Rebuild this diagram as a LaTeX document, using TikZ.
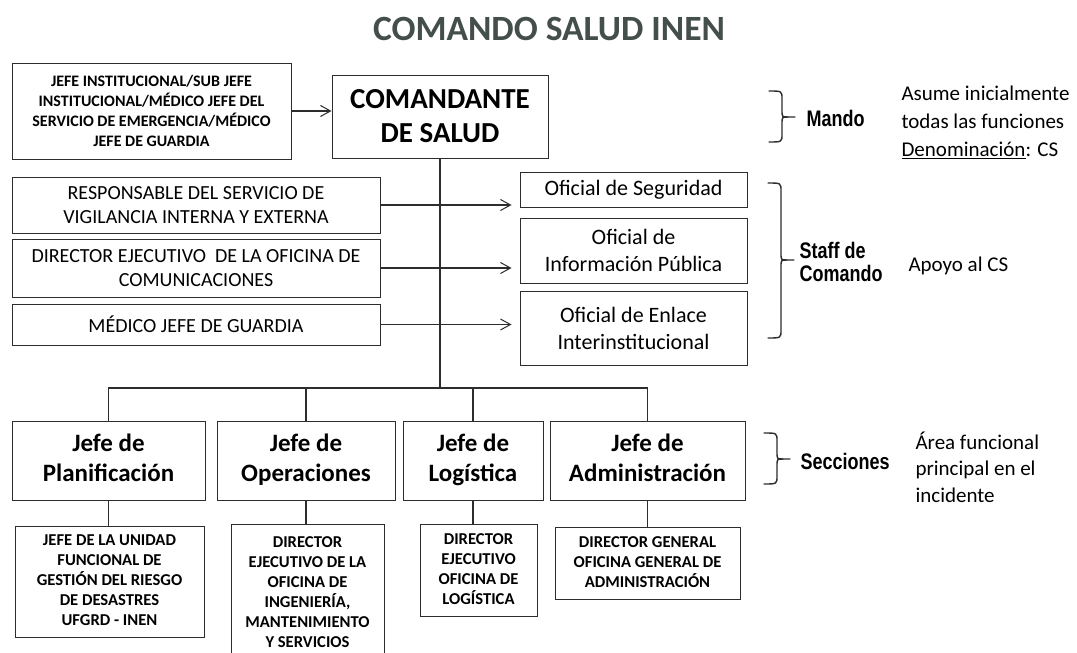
\documentclass[tikz,border=0pt]{standalone}
\usepackage{fontspec}
\setmainfont{Carlito}
\newfontfamily\narrowfont[FakeStretch=0.8]{Liberation Sans}
\usetikzlibrary{arrows.meta}
\definecolor{titlegray}{RGB}{68,78,74}
\definecolor{linecol}{RGB}{45,45,45}
\tikzset{
  box/.style={draw=linecol, line width=1pt, inner sep=0pt, align=center, text=black},
  fbox/.style={box, font=\bfseries\fontsize{16}{20}\selectfont},
  rbox/.style={box, font=\fontsize{20}{24}\selectfont},
  obox/.style={box, font=\fontsize{22}{27}\selectfont},
  sbox/.style={box, font=\bfseries\fontsize{25}{30}\selectfont},
  subbox/.style={box, font=\bfseries\fontsize{16.6}{20}\selectfont},
  conn/.style={draw=linecol, line width=1.1pt},
  arr/.style={conn, -{Straight Barb[length=10pt,width=11pt,line width=1pt]}},
  brc/.style={draw=linecol, line width=1.4pt, line cap=round},
  grp/.style={font=\narrowfont\bfseries\fontsize{22.5}{23}\selectfont, anchor=west, align=left},
  note/.style={font=\fontsize{21}{28}\selectfont, anchor=west, align=left}
}
% hook x, top y, middle y, bottom y
\newcommand\drawbrace[4]{%
  \draw[brc] (#1,#2) .. controls ({#1+13},#2) and ({#1+13},#2) .. ({#1+13},{#2+8})
    -- ({#1+13},{#3-7}) .. controls ({#1+13},#3) .. ({#1+19},#3) -- ({#1+26},#3);
  \draw[brc] ({#1+19},#3) .. controls ({#1+13},#3) .. ({#1+13},{#3+7})
    -- ({#1+13},{#4-8}) .. controls ({#1+13},#4) and ({#1+13},#4) .. (#1,#4);
}
\begin{document}
\begin{tikzpicture}[x=1pt,y=-1pt]
\useasboundingbox (0,0) rectangle (1077,653);
\fill[white] (0,0) rectangle (1077,653);

\node[font=\bfseries\fontsize{35.5}{38}\selectfont, text=titlegray] (title) at (549,29) {COMANDO SALUD INEN};

% Mando
\node[fbox, minimum width=279pt, minimum height=96pt] (A) at (151.5,111) {JEFE INSTITUCIONAL/SUB JEFE\\INSTITUCIONAL/MÉDICO JEFE DEL\\SERVICIO DE EMERGENCIA/MÉDICO\\JEFE DE GUARDIA};
\node[box, font=\bfseries\fontsize{29}{34}\selectfont, minimum width=216pt, minimum height=83pt] (CS) at (440,116.5) {COMANDANTE\\DE SALUD};
\draw[arr] (A.east) -- (A.east -| CS.west);

% Staff
\node[rbox, minimum width=368pt, minimum height=56pt] (R1) at (196,205) {RESPONSABLE DEL SERVICIO DE\\VIGILANCIA INTERNA Y EXTERNA};
\node[rbox, minimum width=368pt, minimum height=58pt] (R2) at (196,268) {DIRECTOR EJECUTIVO\ \ DE LA OFICINA DE\\COMUNICACIONES};
\node[rbox, minimum width=368pt, minimum height=41pt] (R3) at (196,324.5) {MÉDICO JEFE DE GUARDIA};

\node[obox, minimum width=227pt, minimum height=35pt] (O1) at (633.5,189.5) {Oficial de Seguridad};
\node[obox, minimum width=227pt, minimum height=65pt] (O2) at (633.5,250.5) {Oficial de\\Información Pública};
\node[obox, minimum width=227pt, minimum height=74pt] (O3) at (633.5,328) {Oficial de Enlace\\Interinstitucional};

\coordinate (bus) at (440,388);
\draw[conn] (CS.south) -- (CS.south |- bus);

\draw[arr, shorten >=8pt] (R1.east) -- (R1.east -| O1.west);
\draw[arr, shorten >=8pt] (R2.east) -- (R2.east -| O2.west);
\draw[arr, shorten >=8pt] (R3.east) -- (R3.east -| O3.west);

% Sections
\node[sbox, minimum width=193pt, minimum height=79pt] (S1) at (108.5,460.5) {\strut Jefe de\\\strut Planificación};
\node[sbox, minimum width=178pt, minimum height=79pt] (S2) at (306,460.5) {\strut Jefe de\\\strut Operaciones};
\node[sbox, minimum width=140pt, minimum height=79pt] (S3) at (473,460.5) {\strut Jefe de\\\strut Logística};
\node[sbox, minimum width=195pt, minimum height=79pt] (S4) at (647.5,460.5) {\strut Jefe de\\\strut Administración};

\draw[conn] (S1.north) -- (S1.north |- bus) -- (S4.north |- bus) -- (S4.north);
\draw[conn] (S2.north) -- (S2.north |- bus);
\draw[conn] (S3.north) -- (S3.north |- bus);

\node[subbox, minimum width=189pt, minimum height=111pt] (B1) at (109.5,581.5) {\strut JEFE DE LA UNIDAD\\FUNCIONAL DE\\GESTIÓN DEL RIESGO\\DE DESASTRES\\UFGRD - INEN\strut};
\node[subbox, minimum width=153pt, minimum height=138pt] (B2) at (307.5,593) {\strut DIRECTOR\\EJECUTIVO DE LA\\OFICINA DE\\INGENIERÍA,\\MANTENIMIENTO\\Y SERVICIOS\strut};
\node[subbox, minimum width=117pt, minimum height=92pt] (B3) at (478.5,570) {\strut DIRECTOR\\EJECUTIVO\\OFICINA DE\\LOGÍSTICA\strut};
\node[subbox, minimum width=185pt, minimum height=72pt] (B4) at (647.5,563) {\strut DIRECTOR GENERAL\\OFICINA GENERAL DE\\ADMINISTRACIÓN\strut};

\draw[conn] (S1.south) -- (S1.south |- B1.north);
\draw[conn] (S2.south) -- (S2.south |- B2.north);
\draw[conn] (S3.south) -- (S3.south |- B3.north);
\draw[conn] (S4.south) -- (S4.south |- B4.north);

% Braces and labels
\drawbrace{769}{91}{117}{142}
\drawbrace{768}{183}{260}{338}
\drawbrace{764}{433}{459}{484}

\node[grp] (mando) at (803,118) {Mando};
\node[grp, font=\narrowfont\bfseries\fontsize{22.5}{23}\selectfont] (staff) at (796,262) {Staff de\\Comando};
\node[grp] (secc) at (797,461) {Secciones};

\node[note] (n1) at (898,122) {Asume inicialmente\\todas las funciones\\\underline{Denominación}: CS};
\node[note] (n2) at (905,266) {Apoyo al CS};
\node[note, font=\fontsize{21}{26.5}\selectfont] (n3) at (912,467) {Área funcional\\principal en el\\incidente};
\end{tikzpicture}
\end{document}
